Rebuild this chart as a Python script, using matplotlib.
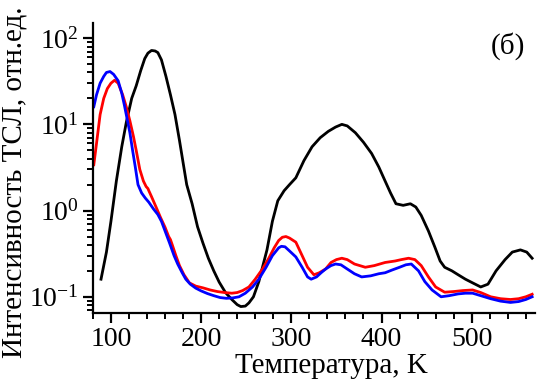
import matplotlib
matplotlib.use('Agg')
import matplotlib.pyplot as plt
from matplotlib.ticker import LogLocator, MultipleLocator, NullFormatter

plt.rcParams['font.family'] = ['Liberation Serif', 'DejaVu Serif']
plt.rcParams['mathtext.fontset'] = 'custom'
plt.rcParams['mathtext.rm'] = 'Liberation Serif'
plt.rcParams['mathtext.it'] = 'Liberation Serif:italic'

# black curve
t_black = [89, 95, 100, 106, 112, 117, 123, 128, 133, 137.5, 141, 145, 149, 152, 156,
           161, 166, 171, 176, 180, 184, 190, 196, 202, 208, 214, 220, 227, 234, 240,
           244, 249, 253, 258, 264, 268, 273, 279, 285, 292, 298, 305, 314, 323, 332,
           341, 349, 356, 362, 371, 380, 389, 397, 404, 410, 416, 424, 432, 438, 444,
           452, 459, 465, 470, 478, 485, 493, 501, 510, 518, 527, 537, 545, 554, 561, 567]
i_black = [0.16, 0.33, 0.75, 2.2, 5.5, 10.5, 20, 28, 42, 58, 67, 72, 71, 68, 56,
           36, 22, 13, 6.5, 3.6, 2.0, 1.2, 0.65, 0.42, 0.28, 0.2, 0.148, 0.112, 0.093, 0.081,
           0.077, 0.078, 0.085, 0.1, 0.15, 0.22, 0.35, 0.75, 1.3, 1.7, 2.0, 2.4, 3.8, 5.5, 7.0,
           8.3, 9.3, 10, 9.6, 8.0, 6.2, 4.6, 3.2, 2.2, 1.6, 1.2, 1.15, 1.2, 1.1, 0.88,
           0.58, 0.38, 0.26, 0.22, 0.2, 0.18, 0.16, 0.145, 0.13, 0.14, 0.2, 0.27, 0.33, 0.35, 0.33, 0.28]

# red curve
t_red = [81, 84, 88, 92, 96, 100, 104, 108, 113, 117, 121, 125, 128, 132, 136, 139, 141,
         142, 145, 150, 155, 160, 164, 166, 168, 172, 176, 181, 187, 194, 202, 210, 218,
         226, 234, 240, 246, 253, 260, 268, 275, 281, 286, 290, 294, 298, 305, 312, 318,
         325, 331, 338, 344, 350, 356, 362, 370, 382, 392, 404, 415, 422, 430, 437, 444,
         452, 460, 470, 480, 490, 501, 510, 521, 532, 543, 552, 560, 567]
i_red = [3.4, 6, 13, 20, 26, 30, 32.5, 30, 22, 16, 11, 7.2, 5, 3.0, 2.2, 1.9, 1.8,
         1.7, 1.45, 1.1, 0.83, 0.64, 0.5, 0.46, 0.4, 0.3, 0.23, 0.18, 0.145, 0.133, 0.127, 0.12, 0.115,
         0.112, 0.11, 0.112, 0.118, 0.13, 0.16, 0.21, 0.28, 0.37, 0.45, 0.49, 0.5, 0.48, 0.43, 0.3, 0.22,
         0.18, 0.19, 0.21, 0.25, 0.27, 0.28, 0.27, 0.24, 0.22, 0.23, 0.25, 0.26, 0.27, 0.28, 0.27, 0.23,
         0.17, 0.13, 0.113, 0.115, 0.118, 0.12, 0.112, 0.1, 0.095, 0.093, 0.095, 0.1, 0.107]

# blue curve
t_blue = [81, 84, 88, 92, 95, 99, 103, 108, 112, 115, 118, 121, 124, 127, 130, 134, 138,
          142, 147, 152, 156, 160, 165, 170, 174, 179, 183, 188, 194, 200, 207, 214, 221,
          228, 235, 242, 249, 257, 264, 272, 279, 286, 289, 293, 298, 305, 312, 318, 322,
          328, 333, 338, 344, 349, 355, 362, 370, 378, 388, 397, 404, 412, 420, 427, 433,
          441, 448, 456, 466, 475, 485, 493, 501, 510, 521, 532, 543, 552, 560, 567]
i_blue = [16, 22, 30, 36, 40, 41, 38, 32, 23, 16.5, 11.5, 8, 5, 3.2, 2.0, 1.6, 1.4,
          1.25, 1.05, 0.9, 0.75, 0.58, 0.42, 0.3, 0.24, 0.19, 0.16, 0.14, 0.126, 0.117, 0.109, 0.103, 0.098,
          0.096, 0.097, 0.1, 0.11, 0.13, 0.16, 0.22, 0.3, 0.37, 0.385, 0.38, 0.34, 0.29, 0.22, 0.17, 0.16,
          0.17, 0.19, 0.21, 0.23, 0.24, 0.235, 0.21, 0.185, 0.17, 0.175, 0.185, 0.19, 0.205, 0.22, 0.235, 0.24,
          0.2, 0.15, 0.12, 0.1, 0.103, 0.108, 0.11, 0.11, 0.103, 0.095, 0.089, 0.086, 0.088, 0.093, 0.1]

fig = plt.figure(figsize=(5.37, 3.83), dpi=100)
ax = fig.add_axes([0.173, 0.183, 0.823, 0.757])

ax.plot(t_black, i_black, color='black', lw=2)
ax.plot(t_red, i_red, color='red', lw=2)
ax.plot(t_blue, i_blue, color='blue', lw=2)

ax.set_yscale('log')
ax.set_xlim(80, 570)
ax.set_ylim(0.065, 150)

ax.xaxis.set_major_locator(MultipleLocator(100))
ax.xaxis.set_minor_locator(MultipleLocator(20))
ax.yaxis.set_major_locator(LogLocator(base=10, numticks=10))
ax.yaxis.set_minor_locator(LogLocator(base=10, subs=range(2, 10), numticks=10))
ax.yaxis.set_minor_formatter(NullFormatter())

for s in ['top', 'right']:
    ax.spines[s].set_visible(False)
for s in ['left', 'bottom']:
    ax.spines[s].set_linewidth(1.6)

ax.tick_params(which='major', direction='out', length=7, width=1.6, labelsize=20, pad=3)
ax.tick_params(which='minor', direction='out', length=4, width=1.4)

ax.set_xlabel('Температура, K', fontsize=21, labelpad=1, x=0.54)
ax.set_ylabel('Интенсивность ТСЛ, отн.ед.', fontsize=21, labelpad=1, y=0.45)
ax.text(0.94, 0.92, '(б)', transform=ax.transAxes, fontsize=21, ha='center', va='center')

fig.savefig('out.png', dpi=100)
